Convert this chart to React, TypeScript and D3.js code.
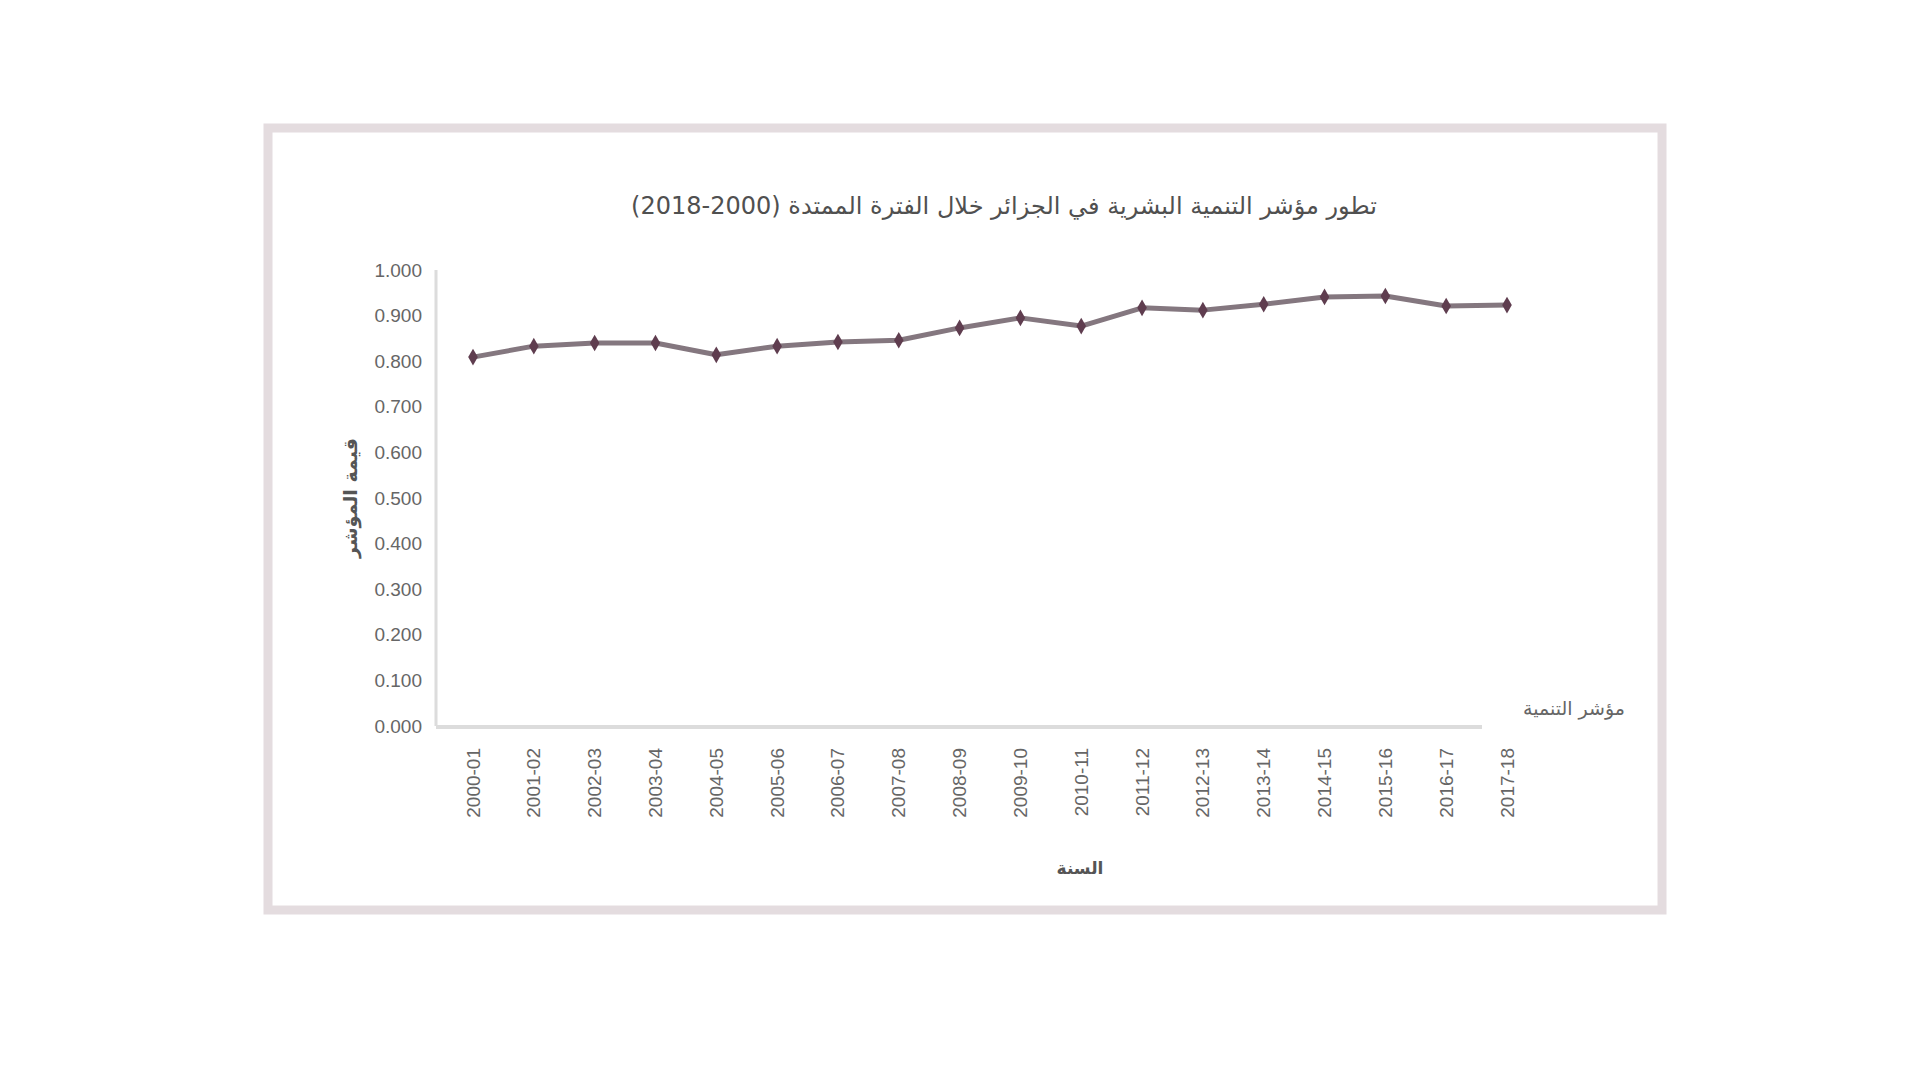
import React from "react";
import * as d3 from "d3";

// categories and values
const years = [
  "2000-01", "2001-02", "2002-03", "2003-04", "2004-05", "2005-06",
  "2006-07", "2007-08", "2008-09", "2009-10", "2010-11", "2011-12",
  "2012-13", "2013-14", "2014-15", "2015-16", "2016-17", "2017-18",
];
const indexValues = [
  0.809, 0.833, 0.84, 0.84, 0.814, 0.833, 0.842, 0.846, 0.873,
  0.895, 0.877, 0.917, 0.912, 0.925, 0.941, 0.943, 0.921, 0.923,
];
const yTicks = [0, 0.1, 0.2, 0.3, 0.4, 0.5, 0.6, 0.7, 0.8, 0.9, 1.0];

const chartTitle = "تطور مؤشر التنمية البشرية في الجزائر خلال الفترة الممتدة (2000-2018)";
const yTitle = "قيمة المؤشر";
const xTitle = "السنة";
const legendLabel = "مؤشر التنمية";

const W = 1920;
const H = 1080;
const arFont = "'DejaVu Sans', sans-serif";
const numFont = "'Liberation Sans', Arial, sans-serif";

export default function App() {
  const y = d3.scaleLinear().domain([0, 1]).range([726, 270]);
  const x = d3.scalePoint<string>().domain(years).range([473, 1507]);

  const line = d3
    .line<number>()
    .x((_, i) => x(years[i]) as number)
    .y((d) => y(d));

  const marker = d3.symbol().type(d3.symbolDiamond).size(80);

  return (
    <svg
      width={W}
      height={H}
      style={{ position: "absolute", left: 0, top: 0, background: "#fff" }}
    >
      <rect width={W} height={H} fill="#fff" />
      {/* chart frame */}
      <rect
        x={268}
        y={128}
        width={1394}
        height={782}
        fill="#fff"
        stroke="#e4dcdf"
        strokeWidth={9}
      />

      <text
        x={1004}
        y={214}
        textAnchor="middle"
        fontFamily={arFont}
        fontSize={24}
        fill="#505050"
        direction="rtl"
      >
        {chartTitle}
      </text>

      {/* y axis */}
      <line x1={436} x2={436} y1={270} y2={726} stroke="#dcdcdc" strokeWidth={3} />
      {yTicks.map((t) => (
        <text
          key={t}
          x={422}
          y={y(t)}
          dy="0.35em"
          textAnchor="end"
          fontFamily={numFont}
          fontSize={19}
          fill="#666"
        >
          {d3.format(".3f")(t)}
        </text>
      ))}

      {/* x axis */}
      <line x1={436} x2={1482} y1={727} y2={727} stroke="#dcdcdc" strokeWidth={4} />
      {years.map((yr) => (
        <text
          key={yr}
          transform={`translate(${x(yr)},748) rotate(-90)`}
          textAnchor="end"
          dominantBaseline="central"
          fontFamily={numFont}
          fontSize={19}
          fill="#666"
        >
          {yr}
        </text>
      ))}

      {/* series */}
      <path
        d={line(indexValues) ?? ""}
        fill="none"
        stroke="#84777f"
        strokeWidth={5}
        strokeLinejoin="round"
      />
      {indexValues.map((v, i) => (
        <path
          key={i}
          d={marker() ?? ""}
          transform={`translate(${x(years[i])},${y(v)})`}
          fill="#5f3d4f"
        />
      ))}

      {/* axis titles */}
      <text
        transform="translate(350,498) rotate(-90)"
        textAnchor="middle"
        dominantBaseline="central"
        fontFamily={arFont}
        fontSize={19}
        fontWeight="bold"
        fill="#555"
      >
        {yTitle}
      </text>
      <text
        x={1080}
        y={874}
        textAnchor="middle"
        fontFamily={arFont}
        fontSize={17}
        fontWeight="bold"
        fill="#555"
      >
        {xTitle}
      </text>

      {/* legend */}
      <text
        x={1574}
        y={715}
        textAnchor="middle"
        fontFamily={arFont}
        fontSize={19}
        fill="#666"
      >
        {legendLabel}
      </text>
    </svg>
  );
}
